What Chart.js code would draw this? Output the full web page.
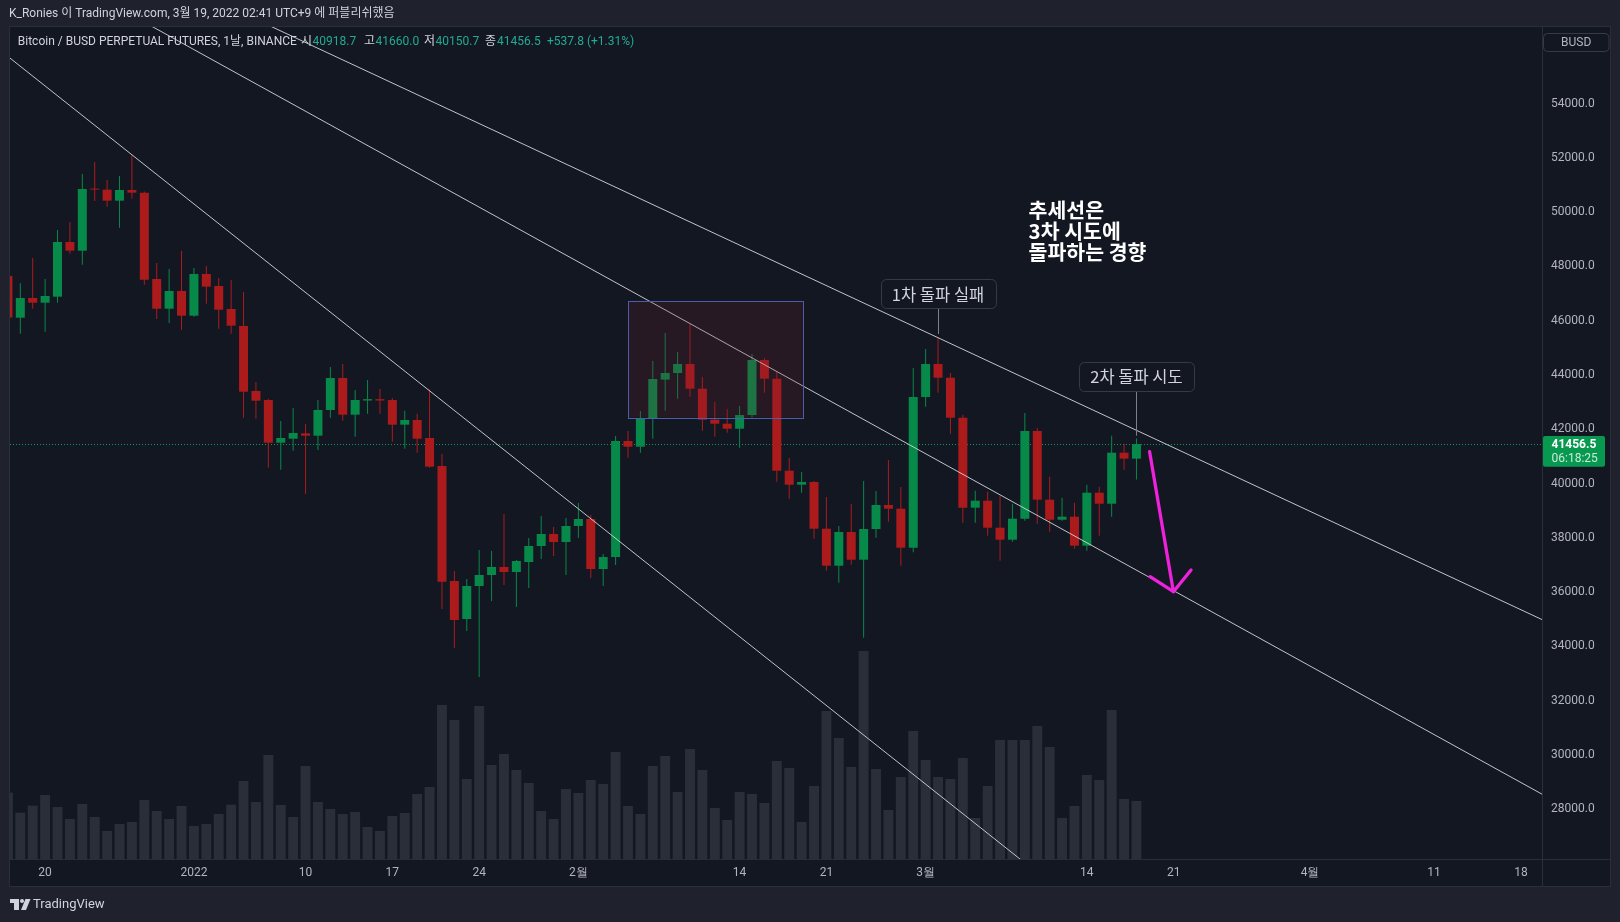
<!DOCTYPE html>
<html lang="ko">
<head>
<meta charset="utf-8">
<title>Bitcoin / BUSD PERPETUAL FUTURES</title>
<script src="https://cdn.jsdelivr.net/npm/chart.js@4.4.1/dist/chart.umd.min.js"></script>
<style>
html,body{margin:0;padding:0;background:#1f222c;width:1620px;height:922px;overflow:hidden}
canvas{display:block}
</style>
</head>
<body>
<canvas id="c" width="1620" height="922" style="width:1620px;height:922px"></canvas>
<script>
// ---------------- DATA (daily candles, index 0 = 2021-12-17) ----------------
const dates = [
 '2021-12-17','2021-12-18','2021-12-19','2021-12-20','2021-12-21','2021-12-22','2021-12-23','2021-12-24','2021-12-25','2021-12-26',
 '2021-12-27','2021-12-28','2021-12-29','2021-12-30','2021-12-31','2022-01-01','2022-01-02','2022-01-03','2022-01-04','2022-01-05',
 '2022-01-06','2022-01-07','2022-01-08','2022-01-09','2022-01-10','2022-01-11','2022-01-12','2022-01-13','2022-01-14','2022-01-15',
 '2022-01-16','2022-01-17','2022-01-18','2022-01-19','2022-01-20','2022-01-21','2022-01-22','2022-01-23','2022-01-24','2022-01-25',
 '2022-01-26','2022-01-27','2022-01-28','2022-01-29','2022-01-30','2022-01-31','2022-02-01','2022-02-02','2022-02-03','2022-02-04',
 '2022-02-05','2022-02-06','2022-02-07','2022-02-08','2022-02-09','2022-02-10','2022-02-11','2022-02-12','2022-02-13','2022-02-14',
 '2022-02-15','2022-02-16','2022-02-17','2022-02-18','2022-02-19','2022-02-20','2022-02-21','2022-02-22','2022-02-23','2022-02-24',
 '2022-02-25','2022-02-26','2022-02-27','2022-02-28','2022-03-01','2022-03-02','2022-03-03','2022-03-04','2022-03-05','2022-03-06',
 '2022-03-07','2022-03-08','2022-03-09','2022-03-10','2022-03-11','2022-03-12','2022-03-13','2022-03-14','2022-03-15','2022-03-16',
 '2022-03-17','2022-03-18'
];
const opens = [
 47650,46112,46838,46665,46886,48902,48581,50855,50830,50424,
 50818,50719,47538,46444,47096,46186,47723,47281,46433,45807,
 43411,43080,41506,41654,41850,41764,42711,43890,42538,43060,
 43110,43080,42170,42343,41679,40648,36410,35010,36226,36631,
 36926,36742,37110,37700,38142,37847,38437,38695,36852,37294,
 41569,41359,42380,43830,44075,44406,43496,42354,42206,42022,
 42527,44554,43865,40474,39958,40058,38337,36974,38215,37195,
 38326,39211,39074,37637,43190,44406,43901,42427,39111,39369,
 38374,37932,38706,41937,39406,38669,38779,37711,39664,39258,
 41138,40918.7
];
const highs = [
 47990,47380,48312,47538,49344,49639,51408,51850,51187,51334,
 52119,50760,48128,47907,48570,47944,48018,47575,47502,47060,
 43743,43128,42306,42785,42195,43080,44296,44406,43448,43817,
 43483,43153,42685,42575,43474,41090,36778,36484,37552,37515,
 38879,37184,37994,38806,38400,38732,39284,38842,37405,41753,
 41937,42674,44517,45549,44848,45880,43927,43006,42748,42859,
 44775,44627,44112,40942,40426,40095,39505,38437,39247,40095,
 39727,40869,39874,44259,44959,45364,44075,42538,39737,39700,
 39553,39258,42600,42048,40253,39479,39295,39958,39885,41764,
 41469,41660.0
];
const lows = [
 45500,45523,46444,45597,46665,48471,48066,50413,50203,49429,
 50498,47329,46065,45917,45670,46150,46628,45707,45523,42427,
 42391,40585,40511,41211,39616,41237,42427,42317,41727,42575,
 42575,41543,41285,41138,40585,35378,33941,34567,32872,35673,
 36263,35452,36152,37221,37331,36631,37994,36521,36226,37000,
 40953,41138,41654,42685,43128,43201,41948,41727,41875,41322,
 42430,43349,40069,39443,39664,37969,36789,36347,37010,34321,
 38005,38595,36974,37467,42833,43349,41838,38558,38558,38079,
 37158,37858,38632,38521,38226,38632,37600,37526,38079,38779,
 40511,40150.7
];
const closes = [
 46120,46838,46665,46912,48902,48581,50855,50830,50424,50818,
 50719,47513,46444,47096,46186,47723,47255,46407,45818,43386,
 43054,41506,41679,41864,41764,42711,43890,42538,43080,43110,
 43060,42170,42343,41654,40622,36384,34973,36226,36631,36926,
 36742,37147,37700,38142,37847,38437,38695,36852,37294,41569,
 41359,42380,43854,44075,44406,43496,42354,42206,42022,42527,
 44554,43865,40474,39958,40058,38337,36974,38215,37195,38326,
 39211,39074,37637,43190,44406,43901,42427,39111,39369,38374,
 37932,38706,41937,39406,38669,38779,37711,39664,39258,41138,
 40918.7,41456.5
];
// volume (thousand BTC)
const volumes = [
 33.2,23.2,26.7,32.0,26.0,20.0,27.5,21.0,14.0,17.5,
 18.5,29.5,24.0,20.0,26.5,16.5,17.5,22.5,27.2,39.0,
 28.5,52.0,27.0,21.0,46.5,28.5,25.0,22.5,23.5,16.0,
 14.0,21.5,23.0,32.5,36.0,77.0,69.5,40.0,76.5,47.0,
 52.5,44.5,38.0,24.0,20.0,35.0,33.0,39.5,37.5,53.5,
 26.5,22.5,46.5,51.5,33.5,55.0,44.5,25.5,19.5,33.5,
 32.5,28.0,49.0,45.5,18.5,36.5,74.0,60.5,46.0,104.0,
 45.0,24.5,41.0,64.0,49.5,41.0,40.0,50.5,20.5,36.5,
 59.5,59.5,59.5,66.5,56.0,20.5,26.5,42.0,39.5,74.5,
 30.0,29.0
];
// time-axis ticks (day index from 2021-12-17) and their labels
const xTickIndex  = [3, 15, 24, 31, 38, 46, 59, 66, 74, 87, 94, 105, 115, 122];
const xTickLabels = ['20','2022','10','17','24','2월','14','21','3월','14','21','4월','11','18'];
const priceTicks  = [28000,30000,32000,34000,36000,38000,40000,42000,44000,46000,48000,50000,52000,54000,56000];

// drawn trend lines: [dayIndex, price] end points
const trendA = [[-1, 56100], [84, 25300]];
const trendB = [[11, 57000], [124, 28480]];
const trendC = [[21, 56891], [124, 34925]];
// highlighted zone: day range and price range
const zoneDays   = [50.0, 64.1];
const zonePrices = [46739, 42442];
// magenta arrow: tail, tip, two head ends [dayIndex, price]
const arrowShaft = [[92.06, 41175], [93.98, 36016]];
const arrowHead  = [[92.1, 36568], [93.98, 36016], [95.4, 36815]];
// callouts: [dayIndex, pointer price, box-bottom price, text]
const callouts = [
  [75, 45512, 46459, '1차 돌파 실패'],
  [91, 41764, 43422, '2차 돌파 시도']
];
const noteAnchor = [82.3, 50019];
const noteLines  = ['추세선은', '3차 시도에', '돌파하는 경향'];

const headerText  = 'K_Ronies 이 TradingView.com, 3월 19, 2022 02:41 UTC+9 에 퍼블리쉬했음';
const legendTitle = 'Bitcoin / BUSD PERPETUAL FUTURES, 1날, BINANCE';
const countdown   = '06:18:25';

// ---------------- STYLE ----------------
const UP = '#07894a', DOWN = '#ac1b1c';
const lastIdx = closes.length - 1;
const candleColors = closes.map((c, i) => c >= opens[i] ? UP : DOWN);
const FONT = 'Roboto, "Noto Sans CJK KR", sans-serif';
const KFONT = '"Noto Sans CJK KR", Roboto, sans-serif';

function rr(c, x, y, w, h, r) {
  c.beginPath();
  c.moveTo(x + r, y); c.lineTo(x + w - r, y); c.arcTo(x + w, y, x + w, y + r, r);
  c.lineTo(x + w, y + h - r); c.arcTo(x + w, y + h, x + w - r, y + h, r);
  c.lineTo(x + r, y + h); c.arcTo(x, y + h, x, y + h - r, r);
  c.lineTo(x, y + r); c.arcTo(x, y, x + r, y, r); c.closePath();
}

const deco = {
  id: 'deco',
  beforeDraw(chart) {
    const c = chart.ctx; c.save();
    c.fillStyle = '#1f222c'; c.fillRect(0, 0, 1620, 922);
    c.fillStyle = '#131722'; c.fillRect(10, 27, 1600, 859);
    c.restore();
  },
  beforeDatasetsDraw(chart) {
    const c = chart.ctx, a = chart.chartArea, ys = chart.scales.y;
    const y = Math.round(ys.getPixelForValue(closes[lastIdx])) + 0.5;
    c.save(); c.strokeStyle = '#0b9a5b'; c.lineWidth = 1; c.setLineDash([1, 2]);
    c.beginPath(); c.moveTo(a.left, y); c.lineTo(a.right, y); c.stroke(); c.restore();
  },
  afterDatasetsDraw(chart) {
    const c = chart.ctx, a = chart.chartArea, xs = chart.scales.x, ys = chart.scales.y;
    const X = v => xs.getPixelForValue(v), Y = v => ys.getPixelForValue(v);
    c.save();
    c.beginPath(); c.rect(a.left, a.top, a.right - a.left, a.bottom - a.top); c.clip();
    // zone rectangle
    const x0 = X(zoneDays[0]), x1 = X(zoneDays[1]), y0 = Y(zonePrices[0]), y1 = Y(zonePrices[1]);
    c.fillStyle = 'rgba(120,32,45,0.21)'; c.fillRect(x0, y0, x1 - x0, y1 - y0);
    c.strokeStyle = '#4b5ea8'; c.lineWidth = 1;
    c.strokeRect(Math.round(x0) + 0.5, Math.round(y0) + 0.5, Math.round(x1 - x0), Math.round(y1 - y0));
    // callouts
    callouts.forEach(([d, pp, bp, txt]) => {
      const cx = X(d), yb = Y(bp), yp = Y(pp);
      c.strokeStyle = '#7d808a'; c.lineWidth = 1;
      c.beginPath(); c.moveTo(Math.round(cx) + 0.5, yb); c.lineTo(Math.round(cx) + 0.5, yp); c.stroke();
      c.font = '16.5px ' + KFONT;
      const w = 115, h = 29;
      rr(c, Math.round(cx - w / 2) + 0.5, Math.round(yb - h) + 0.5, w, h, 5);
      c.fillStyle = '#131722'; c.fill(); c.strokeStyle = '#363a45'; c.stroke();
      c.fillStyle = '#d1d4dc'; c.textAlign = 'center'; c.textBaseline = 'middle';
      c.fillText(txt, cx, yb - h / 2 + 0.5);
    });
    // note text
    c.font = 'bold 20.5px ' + KFONT; c.fillStyle = '#ffffff'; c.textAlign = 'left'; c.textBaseline = 'middle';
    noteLines.forEach((t, k) => c.fillText(t, X(noteAnchor[0]), Y(noteAnchor[1]) - 1 + k * 21));
    // arrow
    c.strokeStyle = '#ee22dd'; c.lineWidth = 3.3; c.lineCap = 'round'; c.lineJoin = 'round';
    c.beginPath(); c.moveTo(X(arrowShaft[0][0]), Y(arrowShaft[0][1])); c.lineTo(X(arrowShaft[1][0]), Y(arrowShaft[1][1])); c.stroke();
    c.beginPath(); arrowHead.forEach(([d, p], k) => k ? c.lineTo(X(d), Y(p)) : c.moveTo(X(d), Y(p))); c.stroke();
    c.restore();
  },
  afterDraw(chart) {
    const c = chart.ctx, ys = chart.scales.y;
    c.save();
    // frame lines
    c.strokeStyle = '#2a2e39'; c.lineWidth = 1;
    c.beginPath(); c.moveTo(1542.5, 27); c.lineTo(1542.5, 886); c.moveTo(10, 859.5); c.lineTo(1610, 859.5); c.stroke();
    c.strokeRect(9.5, 26.5, 1601, 860);
    // last price tag
    const yp = ys.getPixelForValue(closes[lastIdx]);
    rr(c, 1543, yp - 8, 62, 30.7, 2); c.fillStyle = '#089950'; c.fill();
    c.textAlign = 'left'; c.textBaseline = 'middle';
    c.font = 'bold 12px ' + FONT; c.fillStyle = '#ffffff'; c.fillText(closes[lastIdx].toFixed(1), 1551.5, yp + 0.8);
    c.font = '12px ' + FONT; c.fillStyle = 'rgba(255,255,255,0.78)'; c.fillText(countdown, 1551.5, yp + 15.2);
    // BUSD box
    rr(c, 1543.5, 33.5, 65.5, 18, 4); c.fillStyle = '#131722'; c.fill(); c.strokeStyle = '#363a45'; c.stroke();
    c.fillStyle = '#b2b5be'; c.textAlign = 'center'; c.font = '12px ' + FONT; c.fillText('BUSD', 1576.2, 42.8);
    // header
    c.textAlign = 'left'; c.fillStyle = '#d1d4dc'; c.font = '12px ' + FONT;
    c.fillText(headerText, 9, 14);
    // legend row
    c.fillText(legendTitle, 17.8, 42);
    const vals = [opens[lastIdx], highs[lastIdx], lows[lastIdx], closes[lastIdx]];
    const labs = ['시', '고', '저', '종'];
    const lx = [301, 364, 424, 485], vx = [312.5, 375.5, 435.5, 497];
    const GREEN = '#22ab94';
    labs.forEach((l, k) => {
      c.fillStyle = '#d1d4dc'; c.fillText(l, lx[k], 42);
      c.fillStyle = GREEN; c.fillText(vals[k].toFixed(1), vx[k], 42);
    });
    const ch = closes[lastIdx] - closes[lastIdx - 1];
    const pct = ch / closes[lastIdx - 1] * 100;
    c.fillStyle = GREEN;
    c.fillText((ch >= 0 ? '+' : '') + ch.toFixed(1) + ' (' + (pct >= 0 ? '+' : '') + pct.toFixed(2) + '%)', 547, 42);
    // TradingView footer logo
    c.fillStyle = '#d1d4dc';
    c.fillRect(10, 899, 9, 4); c.fillRect(14, 899, 5, 11);
    c.beginPath(); c.arc(22, 901, 2, 0, Math.PI * 2); c.fill();
    c.beginPath(); c.moveTo(25.5, 899); c.lineTo(30.5, 899); c.lineTo(26, 910); c.lineTo(21, 910); c.closePath(); c.fill();
    c.font = '13px ' + FONT; c.fillText('TradingView', 33, 905);
    c.restore();
  }
};

const lineDS = (pts) => ({
  type: 'line', data: pts.map(([x, y]) => ({ x, y })), yAxisID: 'y', xAxisID: 'x',
  borderColor: 'rgba(212,214,220,0.9)', borderWidth: 1, pointRadius: 0, fill: false,
  tension: 0, order: 2, clip: 0
});

new Chart(document.getElementById('c'), {
  type: 'bar',
  data: {
    datasets: [
      { label: 'volume', type: 'bar', data: volumes.map((v, i) => ({ x: i, y: v })), yAxisID: 'yv', xAxisID: 'x',
        backgroundColor: '#2a2e39', barPercentage: 1, maxBarThickness: 11.4, grouped: false, order: 10, clip: 0 },
      { label: 'wick', type: 'bar', data: lows.map((l, i) => ({ x: i, y: [l, highs[i]] })), yAxisID: 'y', xAxisID: 'x',
        backgroundColor: candleColors, barPercentage: 1, maxBarThickness: 1, grouped: false, order: 8, clip: 0 },
      { label: 'body', type: 'bar', data: opens.map((o, i) => ({ x: i, y: [o, closes[i]] })), yAxisID: 'y', xAxisID: 'x',
        backgroundColor: candleColors, barPercentage: 1, maxBarThickness: 9, minBarLength: 1, grouped: false, order: 7, clip: 0 },
      lineDS(trendA), lineDS(trendB), lineDS(trendC)
    ]
  },
  options: {
    responsive: false, maintainAspectRatio: false, animation: false, devicePixelRatio: 1,
    events: [],
    layout: { padding: { left: 10, top: 27, right: 10, bottom: 36 } },
    plugins: { legend: { display: false }, tooltip: { enabled: false } },
    scales: {
      x: {
        type: 'linear', min: 0.169, max: 123.7, offset: false,
        grid: { display: false, drawTicks: false }, border: { display: false },
        afterBuildTicks: s => { s.ticks = xTickIndex.map(v => ({ value: v })); },
        afterFit: s => { s.height = 27; },
        ticks: { autoSkip: false, maxRotation: 0, padding: 7, color: '#b2b5be',
          font: { family: 'Roboto', size: 12 },
          callback: v => { const k = xTickIndex.indexOf(v); return k >= 0 ? xTickLabels[k] : ''; } }
      },
      y: {
        type: 'linear', position: 'right', min: 26167, max: 56823,
        grid: { display: false, drawTicks: false }, border: { display: false },
        afterBuildTicks: s => { s.ticks = priceTicks.map(v => ({ value: v })); },
        afterFit: s => { s.width = 68; },
        ticks: { padding: 9, color: '#b2b5be', font: { family: 'Roboto', size: 12 },
          callback: v => Number(v).toFixed(1) }
      },
      yv: { type: 'linear', display: false, min: 0, max: 416 }
    }
  },
  plugins: [deco]
});
</script>
</body>
</html>
